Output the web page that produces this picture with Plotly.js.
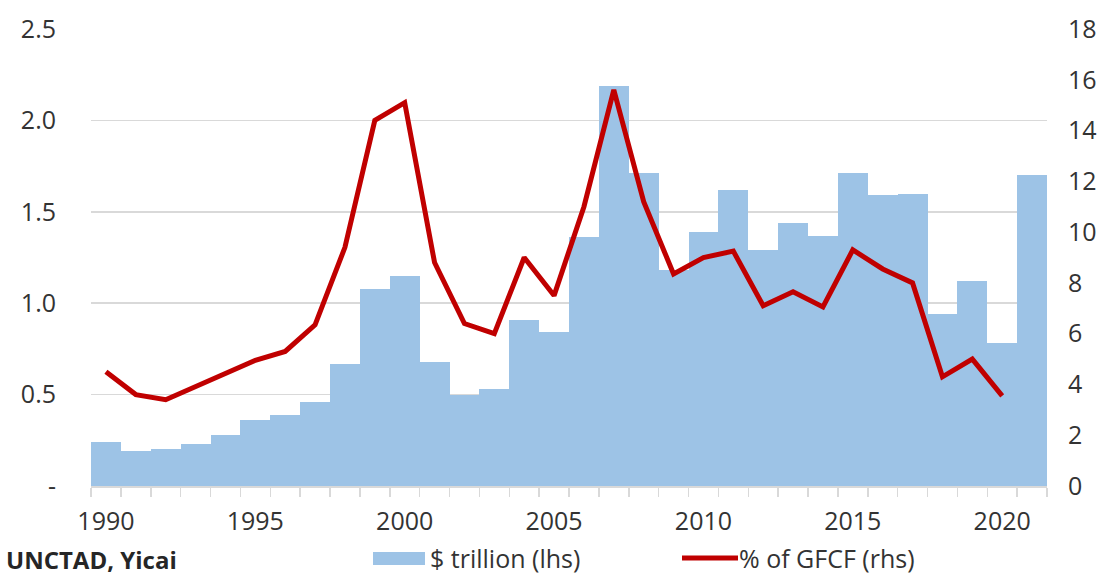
<!DOCTYPE html>
<html>
<head>
<meta charset="utf-8">
<script src="https://cdn.plot.ly/plotly-3.0.1.min.js"></script>
<style>html,body{margin:0;padding:0;background:#fff;}#chart{width:1110px;height:576px;}</style>
</head>
<body>
<div id="chart"></div>
<script>
const years = [1990,1991,1992,1993,1994,1995,1996,1997,1998,1999,2000,2001,2002,2003,2004,2005,2006,2007,2008,2009,2010,2011,2012,2013,2014,2015,2016,2017,2018,2019,2020,2021];
const fdiTrillion = [0.24,0.19,0.20,0.23,0.28,0.36,0.39,0.46,0.67,1.08,1.15,0.68,0.50,0.53,0.91,0.84,1.36,2.19,1.71,1.18,1.39,1.62,1.29,1.44,1.37,1.71,1.59,1.60,0.94,1.12,0.78,1.70];
const lineYears = [1990,1991,1992,1993,1994,1995,1996,1997,1998,1999,2000,2001,2002,2003,2004,2005,2006,2007,2008,2009,2010,2011,2012,2013,2014,2015,2016,2017,2018,2019,2020];
const pctGFCF = [4.5,3.6,3.4,3.9,4.4,4.95,5.3,6.35,9.4,14.4,15.1,8.8,6.4,6.0,9.0,7.5,11.0,15.6,11.2,8.35,9.0,9.25,7.1,7.65,7.05,9.3,8.55,8.0,4.3,5.0,3.55];
const leftTickVals = [0,0.5,1.0,1.5,2.0,2.5];
const leftTickText = ['-','0.5','1.0','1.5','2.0','2.5'];
const rightTickVals = [0,2,4,6,8,10,12,14,16,18];
const xTickVals = [1990,1995,2000,2005,2010,2015,2020];
const seriesNames = ['$ trillion (lhs)','% of GFCF (rhs)'];
const sourceText = 'UNCTAD, Yicai';

const barColor = '#9dc3e6';
const lineColor = '#c00000';
const textColor = '#333333';
const fontFam = 'Open Sans, sans-serif';
const fs = 25;

const traces = [
  {type:'bar', x:years, y:fdiTrillion, name:seriesNames[0], marker:{color:barColor, line:{width:0}}, width:1, yaxis:'y'},
  {type:'scatter', mode:'lines', x:lineYears, y:pctGFCF, name:seriesNames[1], line:{color:lineColor, width:5}, yaxis:'y2'}
];

const layout = {
  width:1110, height:576,
  margin:{l:91, r:63, t:29, b:90},
  paper_bgcolor:'#fff', plot_bgcolor:'#fff',
  showlegend:false,
  bargap:0,
  font:{family:fontFam, color:textColor, size:fs},
  xaxis:{
    range:[1989.5,2021.5], tickmode:'array', tickvals:xTickVals, ticks:'', showgrid:false, zeroline:false,
    showline:true, linecolor:'#d9d9d9', linewidth:1.5,
    ticklabelstandoff:12,
    tickfont:{size:fs, color:textColor, family:fontFam},
    minor:{tickmode:'linear', tick0:1989.5, dtick:1, ticks:'outside', ticklen:9, tickcolor:'#d9d9d9', tickwidth:1.5, showgrid:false}
  },
  yaxis:{
    range:[0,2.5], tickmode:'array', tickvals:leftTickVals, ticktext:leftTickText,
    showgrid:true, gridcolor:'#d9d9d9', gridwidth:1.5, zeroline:false, showline:false, ticks:'',
    ticklabelstandoff:34,
    tickfont:{size:fs, color:textColor, family:fontFam}
  },
  yaxis2:{
    range:[0,18], overlaying:'y', side:'right', tickmode:'array', tickvals:rightTickVals,
    showgrid:false, zeroline:false, showline:false, ticks:'',
    ticklabelstandoff:20,
    tickfont:{size:fs, color:textColor, family:fontFam}
  },
  shapes:[
    {type:'rect', xref:'paper', yref:'paper', x0:(373-91)/956, x1:(425-91)/956, y0:(576-90-565)/457, y1:(576-90-552)/457, fillcolor:barColor, line:{width:0}},
    {type:'line', xref:'paper', yref:'paper', x0:(682-91)/956, x1:(738-91)/956, y0:(576-90-558)/457, y1:(576-90-558)/457, line:{color:lineColor, width:5}}
  ],
  annotations:[
    {text:'<b>'+sourceText+'</b>', xref:'paper', yref:'paper', x:(4-91)/956, y:(576-90-559)/457, xanchor:'left', yanchor:'middle', showarrow:false, font:{size:24, color:'#262626', family:fontFam}},
    {text:seriesNames[0], xref:'paper', yref:'paper', x:(428-91)/956, y:(576-90-558)/457, xanchor:'left', yanchor:'middle', showarrow:false, font:{size:fs, color:textColor, family:fontFam}},
    {text:seriesNames[1], xref:'paper', yref:'paper', x:(737-91)/956, y:(576-90-558)/457, xanchor:'left', yanchor:'middle', showarrow:false, font:{size:fs, color:textColor, family:fontFam}}
  ]
};

Plotly.newPlot('chart', traces, layout, {displayModeBar:false, staticPlot:true});
</script>
</body>
</html>
